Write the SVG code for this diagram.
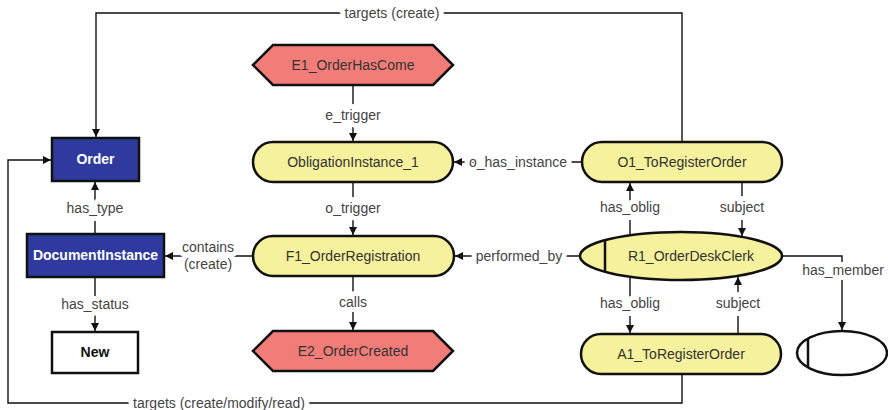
<svg xmlns="http://www.w3.org/2000/svg" width="888" height="410" viewBox="0 0 888 410">
  <style>
    .conn { fill: none; stroke: #111; stroke-width: 1.4; }
    .lbl { font-family: "Liberation Sans", Arial, sans-serif; font-size: 14px; fill: #444; text-anchor: middle; stroke: #fff; stroke-width: 10; stroke-linejoin: round; paint-order: stroke; }
    .doc { fill: #2f3a9e; stroke: #111; stroke-width: 2.5; }
    .plain { fill: #fff; stroke: #111; stroke-width: 2.5; }
    .act { fill: #f6f19c; stroke: #111; stroke-width: 2.5; }
    .evt { fill: #f27d78; stroke: #111; stroke-width: 2.5; }
    .tw { font-family: "Liberation Sans", Arial, sans-serif; font-size: 14px; font-weight: bold; fill: #fff; text-anchor: middle; }
    .tb { font-family: "Liberation Sans", Arial, sans-serif; font-size: 14px; font-weight: bold; fill: #111; text-anchor: middle; }
    .tn { font-family: "Liberation Sans", Arial, sans-serif; font-size: 14px; fill: #333; text-anchor: middle; }
    .bar { stroke: #111; stroke-width: 2.5; }
  </style>
  <defs>
    <marker id="arrow" markerUnits="userSpaceOnUse" markerWidth="9" markerHeight="8" refX="8" refY="4" orient="auto">
      <path d="M0,0 L8,4 L0,8 z" fill="#111"/>
    </marker>
  </defs>
  <rect width="888" height="410" fill="#fff"/>

  <g id="connectors">
    <path class="conn" d="M682,142 V13 H96 V137" marker-end="url(#arrow)"/>
    <path class="conn" d="M682,374 V403 H8 V160 H51" marker-end="url(#arrow)"/>
    <path class="conn" d="M353,85 V141" marker-end="url(#arrow)"/>
    <path class="conn" d="M353,182 V235" marker-end="url(#arrow)"/>
    <path class="conn" d="M353,276 V330" marker-end="url(#arrow)"/>
    <path class="conn" d="M582,162 H454" marker-end="url(#arrow)"/>
    <path class="conn" d="M580,256 H455" marker-end="url(#arrow)"/>
    <path class="conn" d="M253,256 H165" marker-end="url(#arrow)"/>
    <path class="conn" d="M95,234 V182" marker-end="url(#arrow)"/>
    <path class="conn" d="M95,277 V331" marker-end="url(#arrow)"/>
    <path class="conn" d="M630,235 V183" marker-end="url(#arrow)"/>
    <path class="conn" d="M742,182 V236" marker-end="url(#arrow)"/>
    <path class="conn" d="M630,277 V333" marker-end="url(#arrow)"/>
    <path class="conn" d="M738,334 V277" marker-end="url(#arrow)"/>
    <path class="conn" d="M782,256 H842 V330" marker-end="url(#arrow)"/>

    <text class="lbl" x="392" y="13" dy="0.35em">targets (create)</text>
    <text class="lbl" x="219" y="403" dy="0.35em">targets (create/modify/read)</text>
    <text class="lbl" x="353" y="115" dy="0.35em">e_trigger</text>
    <text class="lbl" x="353" y="208" dy="0.35em">o_trigger</text>
    <text class="lbl" x="353" y="302" dy="0.35em">calls</text>
    <text class="lbl" x="518" y="162" dy="0.35em">o_has_instance</text>
    <text class="lbl" x="519" y="256" dy="0.35em">performed_by</text>
    <text class="lbl" x="208" y="247" dy="0.35em">contains</text>
    <text class="lbl" x="208" y="264" dy="0.35em">(create)</text>
    <text class="lbl" x="95" y="208" dy="0.35em">has_type</text>
    <text class="lbl" x="95" y="304" dy="0.35em">has_status</text>
    <text class="lbl" x="630" y="207" dy="0.35em">has_oblig</text>
    <text class="lbl" x="742" y="207" dy="0.35em">subject</text>
    <text class="lbl" x="630" y="303" dy="0.35em">has_oblig</text>
    <text class="lbl" x="738" y="303" dy="0.35em">subject</text>
    <text class="lbl" x="843" y="270" dy="0.35em">has_member</text>
  </g>

  <g id="order">
    <rect class="doc" x="52" y="138" width="87" height="43"/>
    <text class="tw" x="95.5" y="159.5" dy="0.35em">Order</text>
  </g>
  <g id="document-instance">
    <rect class="doc" x="27" y="234" width="137" height="43"/>
    <text class="tw" x="95.5" y="255.5" dy="0.35em">DocumentInstance</text>
  </g>
  <g id="new">
    <rect class="plain" x="52" y="332" width="86" height="41"/>
    <text class="tb" x="95" y="352.5" dy="0.35em">New</text>
  </g>
  <g id="e1-order-has-come">
    <polygon class="evt" points="253,65 273,45 433,45 453,65 433,85 273,85"/>
    <text class="tn" x="353" y="65" dy="0.35em">E1_OrderHasCome</text>
  </g>
  <g id="obligation-instance-1">
    <rect class="act" x="253" y="142" width="200" height="40" rx="20"/>
    <text class="tn" x="353" y="162" dy="0.35em">ObligationInstance_1</text>
  </g>
  <g id="f1-order-registration">
    <rect class="act" x="253" y="236" width="201" height="40" rx="20"/>
    <text class="tn" x="353" y="256" dy="0.35em">F1_OrderRegistration</text>
  </g>
  <g id="e2-order-created">
    <polygon class="evt" points="253,351 273,331 433,331 453,351 433,371 273,371"/>
    <text class="tn" x="353" y="351" dy="0.35em">E2_OrderCreated</text>
  </g>
  <g id="o1-to-register-order">
    <rect class="act" x="582" y="142" width="200" height="40" rx="20"/>
    <text class="tn" x="682" y="162" dy="0.35em">O1_ToRegisterOrder</text>
  </g>
  <g id="r1-order-desk-clerk">
    <ellipse class="act" cx="681" cy="256" rx="101" ry="24"/>
    <line class="bar" x1="605" y1="240" x2="605" y2="272"/>
    <text class="tn" x="691" y="256" dy="0.35em">R1_OrderDeskClerk</text>
  </g>
  <g id="a1-to-register-order">
    <rect class="act" x="581" y="334" width="200" height="40" rx="20"/>
    <text class="tn" x="681" y="354" dy="0.35em">A1_ToRegisterOrder</text>
  </g>
  <g id="member">
    <ellipse class="plain" cx="842" cy="353" rx="45" ry="22"/>
    <line class="bar" x1="808" y1="339" x2="808" y2="367"/>
  </g>
</svg>
